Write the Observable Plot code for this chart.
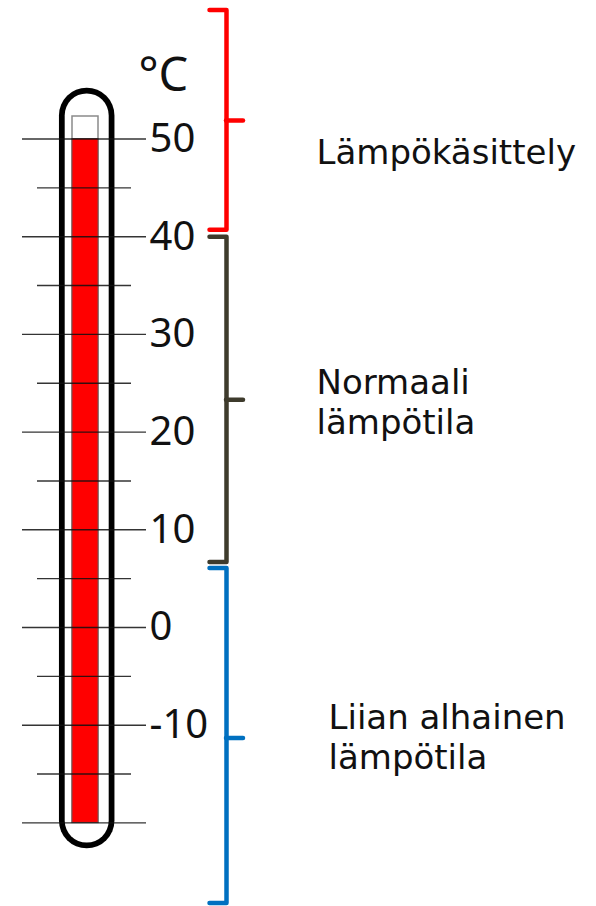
<!DOCTYPE html>
<html>
<head>
<meta charset="utf-8">
<script src="https://cdn.jsdelivr.net/npm/d3@7"></script>
<script src="https://cdn.jsdelivr.net/npm/@observablehq/plot@0.6"></script>
<style>
  html, body { margin: 0; padding: 0; background: #fff; }
</style>
</head>
<body>
<div id="chart"></div>
<script>
// ---- data ----
const unitLabel = "°C";
const reading = 50;                 // thermometer reading (°C)
const scaleMin = -20;
const scaleMax = 50;
const majorTicks = [-20, -10, 0, 10, 20, 30, 40, 50];
const minorTicks = [-15, -5, 5, 15, 25, 35, 45];
const tickLabelValues = [50, 40, 30, 20, 10, 0, -10];
const tickLabels = ["50", "40", "30", "20", "10", "0", "-10"];

const regions = ["Lämpökäsittely", "Normaali\nlämpötila", "Liian alhainen\nlämpötila"];
const regionTop = [63.2, 40.0, 6.1];
const regionBottom = [40.7, 6.7, -28.2];
const regionTip = [51.9, 23.3, -11.3];
const regionLabelY = [48.8, 23.2, -11.1];
const regionColors = ["#ff0000", "#3e3b2c", "#0070c0"];

// ---- derived tables ----
const bracketPts = regions.flatMap((r, i) => [
  {r, x: 209, y: regionTop[i]},
  {r, x: 226, y: regionTop[i]},
  {r, x: 226, y: regionBottom[i]},
  {r, x: 209, y: regionBottom[i]}
]);
const tips = regions.map((r, i) => ({r, y: regionTip[i]}));
const labels = regions.map((r, i) => ({r, y: regionLabelY[i], i}));
const tickRows = tickLabelValues.map((v, i) => ({v, t: tickLabels[i]}));

const chart = Plot.plot({
  width: 596,
  height: 906,
  margin: 0,
  style: {fontFamily: "DejaVu Sans", background: "#fff", color: "#000"},
  x: {domain: [0, 596], range: [0, 596], axis: null},
  y: {domain: [scaleMin, scaleMax], range: [822.4, 138.5], axis: null},
  color: {domain: regions, range: regionColors},
  marks: [
    // thermometer body (stadium shape: black outline + white interior)
    Plot.ruleX([0], {x: 86.2, y1: scaleMax, y2: scaleMin,
      insetTop: -23.1, insetBottom: 1.8,
      stroke: "#000", strokeWidth: 55.5, strokeLinecap: "round"}),
    Plot.ruleX([0], {x: 86.2, y1: scaleMax, y2: scaleMin,
      insetTop: -23.1, insetBottom: 1.8,
      stroke: "#fff", strokeWidth: 44, strokeLinecap: "round"}),
    // inner tube
    Plot.rect([0], {x1: 72, x2: 98, y1: scaleMin, y2: scaleMax,
      insetTop: -22.5, fill: "#fff", stroke: "#8a8a8a", strokeWidth: 1.5}),
    // mercury
    Plot.rect([reading], {x1: 72, x2: 98, y1: scaleMin, y2: d => d,
      fill: "#ff0000", stroke: "#7a4a4a", strokeWidth: 1}),
    // ticks
    Plot.ruleY(majorTicks, {x1: 22, x2: 146, stroke: "#111", strokeWidth: 1.4, strokeOpacity: 0.85}),
    Plot.ruleY(minorTicks, {x1: 37, x2: 131, stroke: "#111", strokeWidth: 1.4, strokeOpacity: 0.85}),
    // tick labels
    Plot.text(tickRows, {x: 149, y: "v", text: "t", textAnchor: "start",
      fontSize: 40, fontFamily: "Noto Sans", fill: "#111"}),
    // unit
    Plot.text([unitLabel], {x: 138, y: scaleMax, dy: -48, text: d => d,
      textAnchor: "start", lineAnchor: "bottom", fontSize: 47, fontFamily: "Noto Sans", fill: "#111"}),
    // brackets
    Plot.line(bracketPts, {x: "x", y: "y", z: "r", stroke: "r",
      strokeWidth: 4.5, strokeLinejoin: "round", strokeLinecap: "round"}),
    Plot.ruleY(tips, {y: "y", x1: 226, x2: 243, stroke: "r",
      strokeWidth: 4.5, strokeLinecap: "round"}),
    // region labels
    Plot.text(labels, {x: d => d.i === 2 ? 328 : 316, y: "y", text: "r",
      textAnchor: "start", fontSize: 34, lineHeight: 1.18, fill: "#111"})
  ]
});
document.getElementById("chart").append(chart);
</script>
</body>
</html>
